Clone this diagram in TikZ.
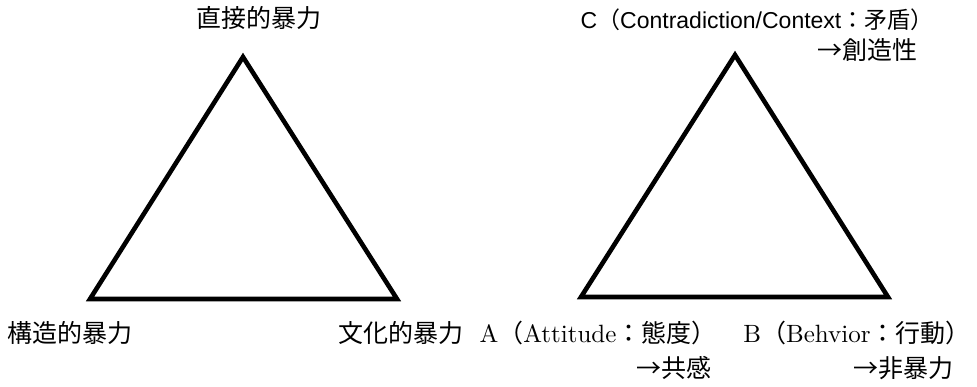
\documentclass[tikz,border=0pt]{standalone}
\usepackage{fontspec}
\setmainfont{lmroman10-regular.otf}
\newfontfamily\cjk{Noto Sans CJK JP}
\newfontfamily\arialfont{Liberation Sans}
\usepackage{tikz}
\usetikzlibrary{positioning,calc}
\tikzset{
  tri/.style={line width=4.6pt,draw=black,line join=miter},
  label/.style={inner sep=0pt,font=\fontsize{25}{28}\selectfont\cjk,text=black},
  latinlabel/.style={inner sep=0pt,font=\fontsize{25}{29}\selectfont,text=black},
  sanslabel/.style={inner sep=0pt,font=\fontsize{23}{26}\selectfont\arialfont,text=black},
}

\begin{document}
\begin{tikzpicture}[x=1pt,y=-1pt]
  \useasboundingbox[fill=white] (0,0) rectangle (977,386);

  % Violence triangle
  \coordinate (dtop) at (243,57);
  \coordinate (dleft) at (90,299);
  \coordinate (dright) at (397,299);
  \draw[tri] (dtop) -- (dleft) -- (dright) -- cycle;

  \node[label] (direct) at (259,18) {直接的暴力};
  \node[label] (struct) at (70,333) {構造的暴力};
  \node[label] (cult) at (401,333) {文化的暴力};

  % ABC triangle
  \coordinate (ctop) at (735,55);
  \coordinate (cleft) at (581,297);
  \coordinate (cright) at (888,297);
  \draw[tri] (ctop) -- (cleft) -- (cright) -- cycle;

  \node[sanslabel] (contra) at (757,20) {C{\cjk （}Contradiction/Context{\cjk ：矛盾）}};
  \node[label] (creat) at (867,50) {→創造性};
  \node[latinlabel] (attit) at (598,333) {A{\cjk （}Attitude{\cjk ：態度）}};
  \node[latinlabel] (behav) at (857,333) {B{\cjk （}Behvior{\cjk ：行動）}};
  \node[label] (empath) at (674,368) {→共感};
  \node[label] (nonviol) at (903,368) {→非暴力};
\end{tikzpicture}
\end{document}
